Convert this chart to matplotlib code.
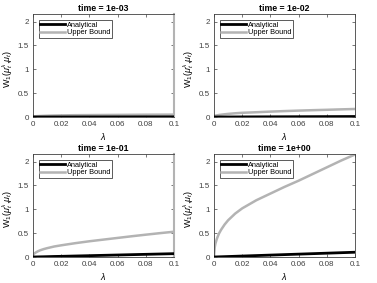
import matplotlib
matplotlib.use("Agg")
import matplotlib.pyplot as plt

plt.rcParams['font.family'] = ['Liberation Sans', 'DejaVu Sans']
plt.rcParams['mathtext.fontset'] = 'custom'
plt.rcParams['mathtext.rm'] = 'Liberation Sans'
plt.rcParams['mathtext.it'] = 'Liberation Sans:italic'

lambdas = [0, 0.0005, 0.001, 0.002, 0.0035, 0.005, 0.0075, 0.01, 0.015, 0.02, 0.03,
           0.04, 0.05, 0.06, 0.07, 0.08, 0.09, 0.1]

titles = ["time = 1e-03", "time = 1e-02", "time = 1e-01", "time = 1e+00"]

analytical = [
    [0.0, 0.0, 0.0, 0.0, 0.0003, 0.0005, 0.0005, 0.0005, 0.001, 0.001, 0.001,
     0.0015, 0.0015, 0.002, 0.002, 0.0025, 0.0025, 0.003],
    [0.0, 0.0001, 0.0001, 0.0002, 0.0004, 0.0005, 0.0008, 0.001, 0.0015, 0.002, 0.003,
     0.004, 0.005, 0.006, 0.007, 0.008, 0.009, 0.01],
    [0.0, 0.0004, 0.0007, 0.0014, 0.0025, 0.0035, 0.005, 0.007, 0.011, 0.014, 0.021,
     0.028, 0.035, 0.042, 0.049, 0.056, 0.063, 0.07],
    [0.0, 0.0005, 0.001, 0.002, 0.0035, 0.005, 0.0075, 0.01, 0.015, 0.02, 0.03,
     0.04, 0.05, 0.06, 0.07, 0.08, 0.09, 0.1],
]

upper = [
    [0.01, 0.012, 0.014, 0.016, 0.019, 0.021, 0.024, 0.027, 0.031, 0.034, 0.038,
     0.04, 0.042, 0.044, 0.046, 0.048, 0.049, 0.05],
    [0.02, 0.024, 0.028, 0.034, 0.042, 0.048, 0.057, 0.065, 0.078, 0.088, 0.10,
     0.113, 0.124, 0.134, 0.143, 0.151, 0.16, 0.168],
    [0.03, 0.06, 0.075, 0.095, 0.12, 0.14, 0.165, 0.185, 0.22, 0.245, 0.29,
     0.33, 0.365, 0.40, 0.435, 0.468, 0.50, 0.53],
    [0.0, 0.2, 0.28, 0.38, 0.49, 0.57, 0.68, 0.77, 0.91, 1.02, 1.19,
     1.33, 1.47, 1.60, 1.74, 1.88, 2.02, 2.15],
]

xticks = [0, 0.02, 0.04, 0.06, 0.08, 0.1]
xticklabels = ["0", "0.02", "0.04", "0.06", "0.08", "0.1"]
yticks = [0, 0.5, 1, 1.5, 2]
yticklabels = ["0", "0.5", "1", "1.5", "2"]

W, H = 377, 283
fig = plt.figure(figsize=(W / 100, H / 100), dpi=100)

boxes = [(33, 14), (214, 14), (33, 154), (214, 154)]
aw, ah = 141, 103

for i in range(4):
    x0, y0 = boxes[i]
    ax = fig.add_axes([x0 / W, 1 - (y0 + ah) / H, aw / W, ah / H])
    ax.plot(lambdas, analytical[i], color='black', lw=2.0, label='Analytical', zorder=3)
    ax.plot(lambdas, upper[i], color='#b3b3b3', lw=1.8, label='Upper Bound', zorder=2)
    ax.set_xlim(0, 0.1)
    ax.set_ylim(0, 2.16)
    ax.set_xticks(xticks)
    ax.set_xticklabels(xticklabels)
    ax.set_yticks(yticks)
    ax.set_yticklabels(yticklabels)
    ax.tick_params(direction='in', length=2, width=0.5, labelsize=5.8,
                   top=True, right=True, colors='#404040', pad=3)
    for sp in ax.spines.values():
        sp.set_linewidth(0.6)
        sp.set_color('#404040')
    if i in (0, 2):
        ax.spines['right'].set_color('#b3b3b3')
        ax.spines['right'].set_linewidth(1.5)
    ax.set_title(titles[i], fontsize=6.3, fontweight='bold', pad=2)
    ax.set_xlabel(r'$\lambda$', fontsize=6.5, labelpad=2)
    ax.set_ylabel(r'W$_1$($\mu_t^\lambda$,$\mu_t$)', fontsize=6.5)
    ax.yaxis.set_label_coords(-0.125, 0.47)
    leg = ax.legend(loc='upper left', fontsize=5.3, frameon=True, fancybox=False,
                    handlelength=3.4, handletextpad=0.2, borderpad=0.25,
                    labelspacing=0.1, borderaxespad=0.75, framealpha=1)
    leg.get_frame().set_edgecolor('#404040')
    leg.get_frame().set_linewidth(0.6)

fig.savefig('out.png', dpi=100)
